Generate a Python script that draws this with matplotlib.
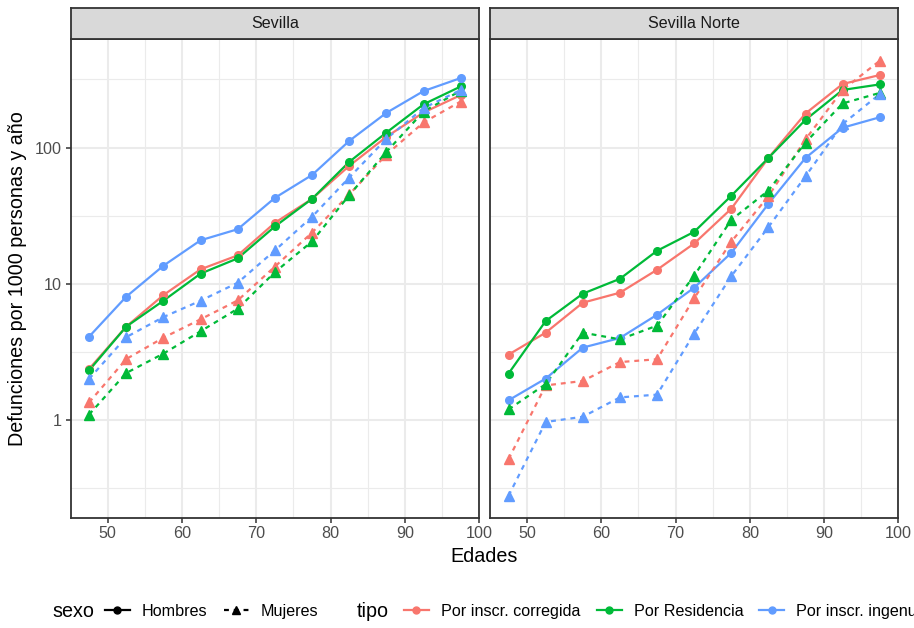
import numpy as np
import matplotlib
matplotlib.use("Agg")
import matplotlib.pyplot as plt
from matplotlib.lines import Line2D

plt.rcParams['font.family'] = ['Liberation Sans', 'DejaVu Sans']

# edades (centro del grupo quinquenal)
edades = [47.5, 52.5, 57.5, 62.5, 67.5, 72.5, 77.5, 82.5, 87.5, 92.5, 97.5]
paneles = ['Sevilla', 'Sevilla Norte']
tipos = ['Por inscr. corregida', 'Por Residencia', 'Por inscr. ingenua']
sexos = ['Hombres', 'Mujeres']

# Sevilla
sev_corr_h = [2.38, 4.86, 8.28, 12.8, 16.2, 28.1, 42.1, 73.5, 120, 181, 243]
sev_res_h = [2.32, 4.86, 7.53, 11.9, 15.4, 26.4, 42.1, 78.6, 129, 208, 281]
sev_ing_h = [4.1, 8.06, 13.6, 20.9, 25.2, 42.8, 63, 112, 180, 260, 324]
sev_corr_m = [1.35, 2.81, 4.03, 5.5, 7.57, 13.4, 23.8, 45.3, 88.9, 153, 218]
sev_res_m = [1.10, 2.22, 3.08, 4.49, 6.58, 12.2, 20.5, 44.8, 93, 184, 262]
sev_ing_m = [2.01, 4.07, 5.71, 7.53, 10.2, 17.6, 31.1, 60.3, 116, 195, 265]

# Sevilla Norte
nor_corr_h = [3.03, 4.39, 7.28, 8.62, 12.7, 19.8, 35.6, 84, 178, 293, 341]
nor_res_h = [2.20, 5.34, 8.48, 10.9, 17.5, 24.1, 44.3, 84, 160, 265, 291]
nor_ing_h = [1.40, 2.02, 3.41, 4.01, 5.94, 9.38, 16.9, 38.7, 84, 140, 167]
nor_corr_m = [0.518, 1.80, 1.94, 2.67, 2.80, 7.85, 20.4, 44, 115, 265, 434]
nor_res_m = [1.20, 1.84, 4.39, 3.92, 4.94, 11.5, 29.5, 48.4, 109, 211, 252]
nor_ing_m = [0.279, 0.97, 1.06, 1.47, 1.54, 4.32, 11.4, 26.1, 61.6, 149, 247]

datos = {
    'Sevilla': {
        'Hombres': [sev_corr_h, sev_res_h, sev_ing_h],
        'Mujeres': [sev_corr_m, sev_res_m, sev_ing_m],
    },
    'Sevilla Norte': {
        'Hombres': [nor_corr_h, nor_res_h, nor_ing_h],
        'Mujeres': [nor_corr_m, nor_res_m, nor_ing_m],
    },
}

colores = ['#F8766D', '#00BA38', '#619CFF']
estilo = {'Hombres': ('-', 'o'), 'Mujeres': ((0, (2.2, 2.2)), '^')}

W, H = 914, 628
fig = plt.figure(figsize=(W / 100, H / 100), dpi=100)

# limites como ggplot (expansion 5%)
todos = np.concatenate([np.log10(s) for p in datos.values() for l in p.values() for s in l])
rng = todos.max() - todos.min()
ylo, yhi = 10 ** (todos.min() - 0.05 * rng), 10 ** (todos.max() + 0.05 * rng)
xrng = max(edades) - min(edades)
xlo, xhi = min(edades) - 0.05 * xrng, max(edades) + 0.05 * xrng

panel_x = [(70.5, 479.3), (490, 898.3)]
top, bottom, strip_top = 39, 517.5, 8.3
fs_txt, fs_tit = 11.6, 14.2

for i, panel in enumerate(paneles):
    x0, x1 = panel_x[i]
    ax = fig.add_axes([x0 / W, 1 - bottom / H, (x1 - x0) / W, (bottom - top) / H])
    ax.set_yscale('log')
    ax.set_xlim(xlo, xhi)
    ax.set_ylim(ylo, yhi)
    ax.set_xticks([50, 60, 70, 80, 90, 100])
    ax.set_xticks([55, 65, 75, 85, 95], minor=True)
    ax.set_yticks([1, 10, 100])
    ax.set_yticks([10 ** -0.5, 10 ** 0.5, 10 ** 1.5, 10 ** 2.5], minor=True)
    ax.set_yticklabels(['1', '10', '100'])
    ax.grid(which='major', color='#EBEBEB', lw=1.5)
    ax.grid(which='minor', color='#EBEBEB', lw=0.8)
    ax.set_axisbelow(True)
    ax.tick_params(which='major', length=3.5, width=1.1, color='#333333',
                   labelsize=fs_txt, labelcolor='#4D4D4D', pad=2.5)
    ax.tick_params(which='minor', length=0)
    if i == 1:
        ax.tick_params(axis='y', which='both', length=0, labelleft=False)
    for sp in ax.spines.values():
        sp.set_color('#333333')
        sp.set_linewidth(1.3)

    for sexo in sexos:
        ls, mk = estilo[sexo]
        for serie, col in zip(datos[panel][sexo], colores):
            ax.plot(edades, serie, color=col, ls=ls, lw=1.6)
    for sexo in sexos:
        ls, mk = estilo[sexo]
        for serie, col in zip(datos[panel][sexo], colores):
            ax.plot(edades, serie, color=col, ls='none', marker=mk, ms=5.5 if mk == 'o' else 6.5,
                    mec=col, mfc=col)

    sax = fig.add_axes([x0 / W, 1 - top / H, (x1 - x0) / W, (top - strip_top) / H])
    sax.set_facecolor('#D9D9D9')
    sax.set_xticks([])
    sax.set_yticks([])
    for sp in sax.spines.values():
        sp.set_color('#333333')
        sp.set_linewidth(1.3)
    sax.text(0.5, 0.5, panel, ha='center', va='center', fontsize=fs_txt, color='#1A1A1A',
             transform=sax.transAxes)

fig.text(18 / W, 1 - (top + bottom) / 2 / H, 'Defunciones por 1000 personas y año',
         rotation=90, ha='center', va='center', fontsize=fs_tit)
fig.text(484.5 / W, 1 - 556 / H, 'Edades', ha='center', va='center', fontsize=fs_tit)

# leyendas
ly = 1 - 611.5 / H
leg_kw = dict(loc='center left', frameon=False, fontsize=fs_txt, handlelength=1.55,
              handletextpad=0.75, columnspacing=1.0, borderpad=0, borderaxespad=0)

fig.text(52 / W, ly, 'sexo', ha='left', va='center', fontsize=fs_tit)
h_sexo = [Line2D([], [], color='black', ls=estilo[s][0], marker=estilo[s][1], lw=1.6,
                 ms=5 if s == 'Hombres' else 6) for s in sexos]
fig.legend(h_sexo, sexos, bbox_to_anchor=(105 / W, ly), ncol=2, **leg_kw)

fig.text(357 / W, ly, 'tipo', ha='left', va='center', fontsize=fs_tit)
h_tipo = [Line2D([], [], color=c, ls='-', marker='o', lw=1.6, ms=5) for c in colores]
fig.legend(h_tipo, tipos, bbox_to_anchor=(404 / W, ly), ncol=3, **leg_kw)

fig.savefig('out.png', dpi=100)
